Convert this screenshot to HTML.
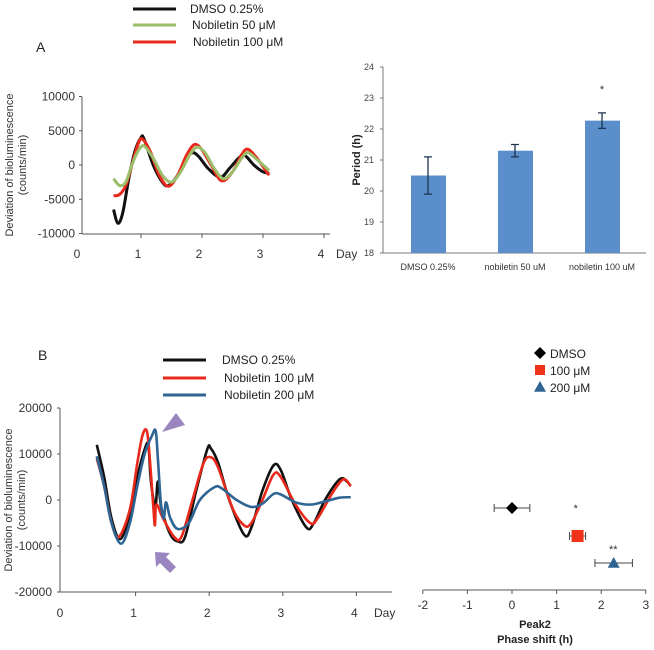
<!DOCTYPE html>
<html><head><meta charset="utf-8"><style>
body{margin:0;background:#fff}
svg{display:block;font-family:"Liberation Sans",sans-serif}
</style></head><body>
<svg id="s" width="654" height="650" viewBox="0 0 654 650" xmlns="http://www.w3.org/2000/svg">
<rect width="654" height="650" fill="#fff"/>
<text x="36" y="52" font-size="14" fill="#222">A</text>
<text x="38" y="360" font-size="14" fill="#222">B</text>
<g id="g"></g>
</svg>
<script>
// Panel A time series (day, counts/min)
const aDays = [0.55,0.62,0.7,0.8,0.9,1.0,1.05,1.2,1.35,1.45,1.6,1.75,1.85,1.95,2.1,2.3,2.45,2.6,2.7,2.85,3.0,3.1];
const aDmso = [-6500,-8500,-7000,-2000,2000,4000,3800,0,-2500,-3000,-1500,1000,1800,1200,-500,-1800,-500,1000,1400,0,-1000,-1200];
const aDays50 = [0.55,0.65,0.75,0.85,0.95,1.05,1.2,1.35,1.5,1.65,1.8,1.92,2.05,2.2,2.35,2.5,2.65,2.75,2.9,3.1];
const aNob50 = [-2000,-3000,-2500,0,2000,2800,1000,-1500,-2500,-1000,1500,2600,1800,-500,-2000,-1000,1000,1800,800,-800];
const aDays100 = [0.55,0.65,0.75,0.85,0.95,1.02,1.15,1.3,1.45,1.6,1.75,1.88,2.0,2.15,2.32,2.5,2.65,2.75,2.9,3.1];
const aNob100 = [-4500,-4300,-3000,0,3000,3800,2000,-1500,-3100,-1500,1500,3000,2200,0,-2300,-1000,1500,2300,1000,-1500];
// Panel A bars
const barCats = ["DMSO 0.25%","nobiletin 50 uM","nobiletin 100 uM"];
const barVals = [20.5,21.3,22.27];
const barErr = [0.6,0.2,0.25];
const barTicks = [18,19,20,21,22,23,24];
// Panel B time series
const bDaysD = [0.5,0.6,0.7,0.82,0.95,1.05,1.15,1.2,1.23,1.27,1.3,1.33,1.38,1.5,1.6,1.7,1.85,2.0,2.05,2.15,2.3,2.5,2.6,2.75,2.9,3.0,3.15,3.35,3.45,3.6,3.8,3.9,3.95];
const bDmso = [12000,5000,-4000,-8500,-3000,5000,11000,12000,5000,0,-1500,4000,-2000,-7500,-9000,-8000,2000,11000,11200,8000,0,-7500,-6000,2000,7500,6500,0,-6000,-5000,0,4500,4000,3000];
const bDaysR = [0.5,0.6,0.7,0.8,0.95,1.05,1.12,1.18,1.22,1.27,1.29,1.31,1.4,1.55,1.65,1.8,1.95,2.05,2.15,2.35,2.5,2.6,2.75,2.9,3.0,3.2,3.4,3.5,3.7,3.85,3.95];
const bNob100 = [9000,3000,-5000,-8000,-2000,8000,14000,15000,9000,-2000,-5500,-1000,-4000,-8000,-8000,0,8000,9300,7000,-2000,-5500,-5000,0,5500,5000,-1000,-5000,-4000,1500,4500,3000];
const bDaysB = [0.5,0.6,0.7,0.83,0.95,1.05,1.15,1.25,1.3,1.33,1.37,1.41,1.44,1.5,1.6,1.75,1.9,2.1,2.2,2.4,2.6,2.75,2.9,3.0,3.2,3.4,3.6,3.8,3.95];
const bNob200 = [9500,3000,-5000,-9500,-5000,3000,10000,14000,15000,9000,-500,-4000,-500,-4000,-6300,-5000,0,2800,2500,0,-1500,-800,1300,1200,-500,-1000,-300,500,600];
// Panel B phase shift
const phaseGroups = ["DMSO","100 μM","200 μM"];
const phaseVals = [0,1.47,2.28];
const phaseErr = [0.4,0.18,0.42];
const phaseTicks = [-2,-1,0,1,2,3];

const NS="http://www.w3.org/2000/svg", G=document.getElementById('g');
function el(t,a,txt){const e=document.createElementNS(NS,t);for(const k in a)e.setAttribute(k,a[k]);if(txt!=null)e.textContent=txt;G.appendChild(e);return e;}
function smooth(pts){let d='M'+pts[0][0]+','+pts[0][1];for(let i=0;i<pts.length-1;i++){const p0=pts[i-1]||pts[i],p1=pts[i],p2=pts[i+1],p3=pts[i+2]||p2;const c1=[p1[0]+(p2[0]-p0[0])/6,p1[1]+(p2[1]-p0[1])/6],c2=[p2[0]-(p3[0]-p1[0])/6,p2[1]-(p3[1]-p1[1])/6];d+=` C${c1[0]},${c1[1]} ${c2[0]},${c2[1]} ${p2[0]},${p2[1]}`;}return d;}
const AX=d=>80+d*61, AY=v=>165-v*0.00685;
const BX=d=>60+d*73.6, BY=v=>500-v*0.0046;
const PY=v=>253-(v-18)*31;
const SX=v=>512+v*44.6;

// Panel A axes
let e;
e=el('line',{x1:82,y1:97,x2:82,y2:234,stroke:'#555'});
e=el('line',{x1:82,y1:234,x2:330,y2:234,stroke:'#555'});
[10000,5000,0,-5000,-10000].forEach(v=>{el('line',{x1:79,y1:AY(v),x2:82,y2:AY(v),stroke:'#555'});e=el('text',{x:75,y:AY(v)+4,'font-size':12,'text-anchor':'end',fill:'#333'},v);});
[0,1,2,3,4].forEach(d=>{if(d>0)el('line',{x1:AX(d),y1:234,x2:AX(d),y2:238,stroke:'#555'});e=el('text',{x:AX(d)-3,y:258,'font-size':12,'text-anchor':'middle',fill:'#333'},d);});
e=el('text',{x:336,y:258,'font-size':12,fill:'#333'},'Day');
e=el('text',{transform:'translate(13,165) rotate(-90)','font-size':11,'text-anchor':'middle',fill:'#333'},'Deviation of bioluminescence');
e=el('text',{transform:'translate(26,165) rotate(-90)','font-size':11,'text-anchor':'middle',fill:'#333'},'(counts/min)');
[[aDays,aDmso,'#111','a-dmso-line'],[aDays100,aNob100,'#e8291c','a-nob100-line'],[aDays50,aNob50,'#9cbe6a','a-nob50-line']].forEach(([xs,ys,c,n])=>{
 e=el('path',{d:smooth(xs.map((x,i)=>[AX(x),AY(ys[i])])),fill:'none',stroke:c,'stroke-width':3});});
[['DMSO 0.25%','#111',9,190],['Nobiletin 50 μM','#9cbe6a',25,192],['Nobiletin 100 μM','#e8291c',42,193]].forEach(([t,c,y,x])=>{
 e=el('line',{x1:133,y1:y,x2:176,y2:y,stroke:c,'stroke-width':3});
 e=el('text',{x:x,y:y+4,'font-size':12,fill:'#222'},t);});

// Bar chart
e=el('line',{x1:383,y1:PY(24),x2:383,y2:253,stroke:'#777'});
e=el('line',{x1:383,y1:253,x2:646,y2:253,stroke:'#777'});
barTicks.forEach(v=>{el('line',{x1:380,y1:PY(v),x2:383,y2:PY(v),stroke:'#777'});e=el('text',{x:374,y:PY(v)+3,'font-size':9,'text-anchor':'end',fill:'#444'},v);});
e=el('text',{transform:'translate(360,160) rotate(-90)','font-size':11,'font-weight':'bold','text-anchor':'middle',fill:'#222'},'Period (h)');
barCats.forEach((c,i)=>{const cx=428+i*87;
 e=el('rect',{x:cx-17,y:PY(barVals[i]),width:35,height:253-PY(barVals[i]),fill:'#5b8fcb'});
 const t=PY(barVals[i]+barErr[i]),b=PY(barVals[i]-barErr[i]);
 e=el('path',{d:`M${cx},${t}V${b}M${cx-4},${t}H${cx+4}M${cx-4},${b}H${cx+4}`,stroke:'#1c3350','stroke-width':1.3,fill:'none'});
 e=el('text',{x:cx,y:270,'font-size':9,'text-anchor':'middle',fill:'#333'},c);});
e=el('text',{x:602,y:93,'font-size':11,'text-anchor':'middle',fill:'#333'},'*');

// Panel B axes
e=el('line',{x1:60,y1:BY(20000),x2:60,y2:592,stroke:'#555'});
e=el('line',{x1:60,y1:592,x2:392,y2:592,stroke:'#555'});
[20000,10000,0,-10000,-20000].forEach(v=>{el('line',{x1:57,y1:BY(v),x2:60,y2:BY(v),stroke:'#555'});e=el('text',{x:52,y:BY(v)+4,'font-size':12,'text-anchor':'end',fill:'#333'},v);});
[0,1,2,3,4].forEach(d=>{if(d>0)el('line',{x1:BX(d)+2,y1:592,x2:BX(d)+2,y2:596,stroke:'#555'});e=el('text',{x:BX(d),y:617,'font-size':12,'text-anchor':'middle',fill:'#333'},d);});
e=el('text',{x:374,y:617,'font-size':12,fill:'#333'},'Day');
e=el('text',{transform:'translate(12,500) rotate(-90)','font-size':11,'text-anchor':'middle',fill:'#333'},'Deviation of bioluminescence');
e=el('text',{transform:'translate(25,500) rotate(-90)','font-size':11,'text-anchor':'middle',fill:'#333'},'(counts/min)');
[[bDaysD,bDmso,'#111','b-dmso-line'],[bDaysR,bNob100,'#e8291c','b-nob100-line'],[bDaysB,bNob200,'#2f6593','b-nob200-line']].forEach(([xs,ys,c,n])=>{
 e=el('path',{d:smooth(xs.map((x,i)=>[BX(x),BY(ys[i])])),fill:'none',stroke:c,'stroke-width':2.6});});
[['DMSO 0.25%','#111',360,222],['Nobiletin 100 μM','#e8291c',378,224],['Nobiletin 200 μM','#2f6593',395,224]].forEach(([t,c,y,x])=>{
 e=el('line',{x1:163,y1:y,x2:206,y2:y,stroke:c,'stroke-width':3});
 e=el('text',{x:x,y:y+4,'font-size':12,fill:'#222'},t);});
e=el('polygon',{points:'162,432 176,413 185,425',fill:'#9a86bf'});
e=el('polygon',{points:'155,552 170,553 166,557 176,567 170,573 160,563 156,567',fill:'#9a86bf'});

// Phase shift panel
e=el('line',{x1:SX(-2),y1:590,x2:SX(3),y2:590,stroke:'#555'});
phaseTicks.forEach(v=>{el('line',{x1:SX(v),y1:590,x2:SX(v),y2:594,stroke:'#555'});e=el('text',{x:SX(v),y:609,'font-size':12,'text-anchor':'middle',fill:'#333'},v);});
e=el('text',{x:535,y:628,'font-size':11,'font-weight':'bold','text-anchor':'middle',fill:'#222'},'Peak2');
e=el('text',{x:535,y:643,'font-size':11,'font-weight':'bold','text-anchor':'middle',fill:'#222'},'Phase shift (h)');
const rowY=[508,536,563], cols=['#000','#f0321a','#2f6593'];
function marker(i,x,y,s){if(i==0)return el('polygon',{points:`${x},${y-s} ${x+s},${y} ${x},${y+s} ${x-s},${y}`,fill:cols[0]});
 if(i==1)return el('rect',{x:x-s,y:y-s,width:2*s,height:2*s,fill:cols[1]});
 return el('polygon',{points:`${x},${y-s} ${x+s},${y+s*0.8} ${x-s},${y+s*0.8}`,fill:cols[2]});}
phaseVals.forEach((v,i)=>{const y=rowY[i],l=SX(v-phaseErr[i]),r=SX(v+phaseErr[i]);
 e=el('path',{d:`M${l},${y}H${r}M${l},${y-4}V${y+4}M${r},${y-4}V${y+4}`,stroke:'#444',fill:'none'});
 e=marker(i,SX(v),y,i==1?6:6);});
e=el('text',{x:SX(1.43),y:512,'font-size':11,'text-anchor':'middle',fill:'#333'},'*');
e=el('text',{x:SX(2.27),y:553,'font-size':11,'text-anchor':'middle',fill:'#333'},'**');
phaseGroups.forEach((g,i)=>{const y=353+i*17;
 e=marker(i,540,y,i==1?5:6);
 e=el('text',{x:550,y:y+5,'font-size':12,fill:'#222'},g);});
</script>
</body></html>
